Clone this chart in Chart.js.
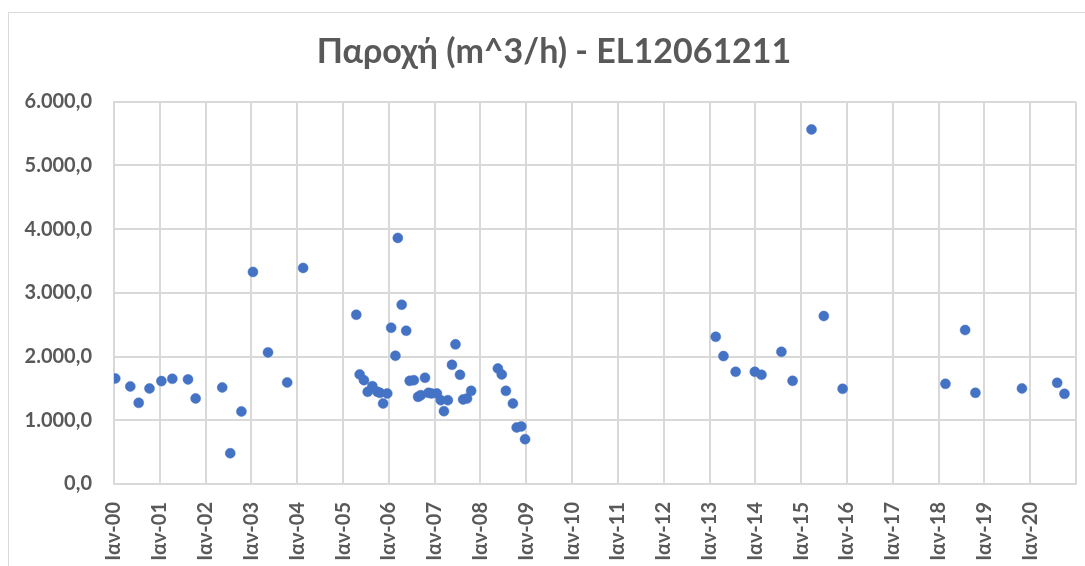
<!DOCTYPE html>
<html>
<head>
<meta charset="utf-8">
<script src="https://cdn.jsdelivr.net/npm/chart.js@4/dist/chart.umd.min.js"></script>
<style>
  html, body { margin: 0; padding: 0; background: #ffffff; overflow: hidden; }
  #wrap { position: absolute; left: 0; top: 0; width: 1085px; height: 566px; }
  #frame { position: absolute; left: 8px; top: 12px; width: 1100px; height: 600px; border: 1px solid #d9d9d9; box-sizing: border-box; }
  canvas { position: absolute; left: 0; top: 0; }
</style>
</head>
<body>
<div id="wrap">
  <div id="frame"></div>
  <canvas id="c" width="1085" height="566"></canvas>
</div>
<script>
// ---- data ----
const chartTitle = 'Παροχή (m^3/h) - EL12061211';
const monthPrefix = 'Ιαν-';
const tickYears = [2000, 2001, 2002, 2003, 2004, 2005, 2006, 2007, 2008, 2009, 2010,
                   2011, 2012, 2013, 2014, 2015, 2016, 2017, 2018, 2019, 2020, 2021];
const sampleDates = [
  '2000-01-11', '2000-05-10', '2000-07-16', '2000-10-10', '2001-01-13', '2001-04-10',
  '2001-08-13', '2001-10-13', '2002-05-13', '2002-07-16', '2002-10-13', '2003-01-13',
  '2003-05-13', '2003-10-13', '2004-02-17',
  '2005-04-16', '2005-05-13', '2005-06-16', '2005-07-16', '2005-08-22', '2005-10-01',
  '2005-10-22', '2005-11-16', '2005-12-19', '2006-01-19', '2006-02-22', '2006-03-13',
  '2006-04-13', '2006-05-19', '2006-06-16', '2006-07-19', '2006-08-22', '2006-09-13',
  '2006-10-16', '2006-11-13', '2006-12-07', '2007-01-19', '2007-02-19', '2007-03-16',
  '2007-04-16', '2007-05-19', '2007-06-16', '2007-07-22', '2007-08-16', '2007-09-16',
  '2007-10-19', '2008-05-19', '2008-06-19', '2008-07-22', '2008-09-16', '2008-10-16',
  '2008-11-22', '2008-12-22',
  '2013-02-19', '2013-04-22', '2013-07-28', '2013-12-28', '2014-02-19', '2014-07-28',
  '2014-10-25', '2015-03-25', '2015-07-01', '2015-11-28',
  '2018-02-25', '2018-08-01', '2018-10-22', '2019-10-28', '2020-08-04', '2020-10-01'
];
const flowValues = [
  1657, 1531, 1274, 1500, 1615, 1651,
  1642, 1343, 1516, 483, 1138, 3329,
  2066, 1594, 3392,
  2657, 1720, 1630, 1447, 1536, 1447,
  1431, 1264, 1421, 2453, 2013, 3863,
  2814, 2406, 1619, 1630, 1368, 1395,
  1667, 1431, 1421, 1421, 1316, 1143,
  1316, 1871, 2192, 1714, 1327, 1343,
  1462, 1814, 1720, 1462, 1264, 887,
  903, 703,
  2311, 2008, 1761, 1761, 1714, 2075,
  1619, 5566, 2637, 1494,
  1572, 2417, 1431, 1500, 1588, 1415
];
const yMin = 0, yMax = 6000, yStep = 1000;

// ---- helpers ----
const DAY = 86400000;
const origin = Date.UTC(tickYears[0], 0, 1);
function dayIndex(str) {
  const p = str.split('-').map(Number);
  return (Date.UTC(p[0], p[1] - 1, p[2]) - origin) / DAY;
}
function yearDay(y) { return (Date.UTC(y, 0, 1) - origin) / DAY; }
function fmtGreek(v) {
  const fixed = v.toFixed(1);
  const parts = fixed.split('.');
  const intPart = parts[0].replace(/\B(?=(\d{3})+(?!\d))/g, '.');
  return intPart + ',' + parts[1];
}
const points = sampleDates.map((d, i) => ({ x: dayIndex(d), y: flowValues[i] }));
const lastYear = tickYears[tickYears.length - 1];

const textColor = '#595959';
const gridColor = '#d9d9d9';
const fontFamily = 'Lato, "Open Sans", sans-serif';

// shift the title so that it is centred like the reference
const titleShift = {
  id: 'titleShift',
  afterLayout(chart) {
    const t = chart.titleBlock;
    if (t) { t.left += 32; }
  }
};

new Chart(document.getElementById('c'), {
  type: 'scatter',
  data: {
    datasets: [{
      data: points,
      backgroundColor: '#4472C4',
      borderColor: '#4472C4',
      borderWidth: 0.5,
      pointRadius: 5,
      pointHoverRadius: 5
    }]
  },
  options: {
    responsive: false,
    animation: false,
    layout: { padding: { left: 0, right: 9, top: 0, bottom: 0 } },
    plugins: {
      legend: { display: false },
      tooltip: { enabled: false },
      title: {
        display: true,
        text: chartTitle,
        color: textColor,
        font: { family: fontFamily, size: 34, weight: 'bold' },
        padding: { top: 32, bottom: 29 }
      }
    },
    scales: {
      x: {
        type: 'linear',
        min: yearDay(tickYears[0]),
        max: yearDay(lastYear),
        afterBuildTicks(scale) {
          scale.ticks = tickYears.map(y => ({ value: yearDay(y) }));
        },
        afterFit(scale) {
          scale.height = 82;
          scale.paddingLeft = 0;
          scale.paddingRight = 0;
        },
        grid: { color: gridColor, lineWidth: 2, drawTicks: false },
        border: { color: gridColor, width: 2 },
        ticks: {
          autoSkip: false,
          minRotation: 90,
          maxRotation: 90,
          padding: 18,
          color: textColor,
          font: { family: fontFamily, size: 20, weight: 'bold' },
          callback(value) {
            const y = tickYears.find(t => yearDay(t) === value);
            if (y === undefined || y === lastYear) return '';
            return monthPrefix + String(y % 100).padStart(2, '0');
          }
        }
      },
      y: {
        min: yMin,
        max: yMax,
        afterFit(scale) {
          scale.width = 114;
          scale.paddingTop = 0;
          scale.paddingBottom = 0;
        },
        grid: { color: gridColor, lineWidth: 2, drawTicks: false },
        border: { color: gridColor, width: 2 },
        ticks: {
          stepSize: yStep,
          padding: 22,
          color: textColor,
          font: { family: fontFamily, size: 20, weight: 'bold' },
          callback(value) { return fmtGreek(value); }
        }
      }
    }
  },
  plugins: [titleShift]
});
</script>
</body>
</html>
